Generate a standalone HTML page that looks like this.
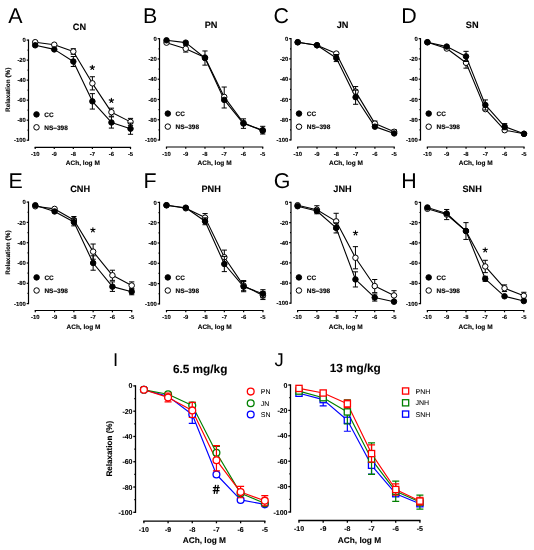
<!DOCTYPE html>
<html><head><meta charset="utf-8"><title>Figure</title>
<style>
html,body{margin:0;padding:0;background:#fff;}
body{width:534px;height:550px;overflow:hidden;}
svg{display:block;will-change:transform;}
text{font-family:"Liberation Sans", sans-serif;text-rendering:geometricPrecision;}
</style></head><body>
<svg width="534" height="550" viewBox="0 0 534 550">
<rect width="534" height="550" fill="#fff"/>
<g stroke="#000" stroke-width="1.2" fill="none">
<path d="M28.5 39.5 V140.8"/>
<path d="M26.7 40.1 H28.5"/>
<path d="M27.5 50.11 H28.5"/>
<path d="M26.7 60.12 H28.5"/>
<path d="M27.5 70.13 H28.5"/>
<path d="M26.7 80.14 H28.5"/>
<path d="M27.5 90.15 H28.5"/>
<path d="M26.7 100.16 H28.5"/>
<path d="M27.5 110.17 H28.5"/>
<path d="M26.7 120.18 H28.5"/>
<path d="M27.5 130.19 H28.5"/>
<path d="M26.7 140.2 H28.5"/>
<path d="M34.6 147.3 H131.1"/>
<path d="M35.2 147.3 V149.1"/>
<path d="M54.26 147.3 V149.1"/>
<path d="M73.32 147.3 V149.1"/>
<path d="M92.38 147.3 V149.1"/>
<path d="M111.44 147.3 V149.1"/>
<path d="M130.5 147.3 V149.1"/>
</g>
<text x="25.9" y="42.22" font-size="5.9" font-weight="bold" text-anchor="end" fill="#000" stroke="#000" stroke-width="0.12">0</text>
<text x="25.9" y="62.24" font-size="5.9" font-weight="bold" text-anchor="end" fill="#000" stroke="#000" stroke-width="0.12">-20</text>
<text x="25.9" y="82.26" font-size="5.9" font-weight="bold" text-anchor="end" fill="#000" stroke="#000" stroke-width="0.12">-40</text>
<text x="25.9" y="102.28" font-size="5.9" font-weight="bold" text-anchor="end" fill="#000" stroke="#000" stroke-width="0.12">-60</text>
<text x="25.9" y="122.3" font-size="5.9" font-weight="bold" text-anchor="end" fill="#000" stroke="#000" stroke-width="0.12">-80</text>
<text x="25.9" y="142.32" font-size="5.9" font-weight="bold" text-anchor="end" fill="#000" stroke="#000" stroke-width="0.12">-100</text>
<text x="35.2" y="155.9" font-size="5.9" font-weight="bold" text-anchor="middle" fill="#000" stroke="#000" stroke-width="0.12">-10</text>
<text x="54.26" y="155.9" font-size="5.9" font-weight="bold" text-anchor="middle" fill="#000" stroke="#000" stroke-width="0.12">-9</text>
<text x="73.32" y="155.9" font-size="5.9" font-weight="bold" text-anchor="middle" fill="#000" stroke="#000" stroke-width="0.12">-8</text>
<text x="92.38" y="155.9" font-size="5.9" font-weight="bold" text-anchor="middle" fill="#000" stroke="#000" stroke-width="0.12">-7</text>
<text x="111.44" y="155.9" font-size="5.9" font-weight="bold" text-anchor="middle" fill="#000" stroke="#000" stroke-width="0.12">-6</text>
<text x="130.5" y="155.9" font-size="5.9" font-weight="bold" text-anchor="middle" fill="#000" stroke="#000" stroke-width="0.12">-5</text>
<text x="82.85" y="165.3" font-size="6.5" font-weight="bold" text-anchor="middle" fill="#000" stroke="#000" stroke-width="0.12">ACh, log M</text>
<text transform="translate(9.7 89.75) rotate(-90)" font-size="6.45" font-weight="bold" text-anchor="middle" stroke="#000" stroke-width="0.12">Relaxation (%)</text>
<text x="79.5" y="29.9" font-size="9.2" font-weight="bold" text-anchor="middle" fill="#000" stroke="#000" stroke-width="0.1">CN</text>
<text x="8.2" y="23.2" font-size="21.4" font-weight="normal" text-anchor="start" fill="#000">A</text>
<polyline points="35.2,42.2 54.26,44.7 73.32,51.51 92.38,83.34 111.44,112.17 130.5,121.88" fill="none" stroke="#000" stroke-width="1.1" stroke-linejoin="round"/>
<polyline points="35.2,45.31 54.26,49.41 73.32,61.52 92.38,101.36 111.44,122.48 130.5,128.69" fill="none" stroke="#000" stroke-width="1.1" stroke-linejoin="round"/>
<path d="M73.32 51.51 V48.71 M70.72 48.71 H75.92 M73.32 51.51 V54.31 M70.72 54.31 H75.92" stroke="#000" stroke-width="1" fill="none"/>
<path d="M92.38 83.34 V76.74 M89.78 76.74 H94.98 M92.38 83.34 V89.95 M89.78 89.95 H94.98" stroke="#000" stroke-width="1" fill="none"/>
<path d="M111.44 112.17 V108.17 M108.84 108.17 H114.04 M111.44 112.17 V116.18 M108.84 116.18 H114.04" stroke="#000" stroke-width="1" fill="none"/>
<path d="M130.5 121.88 V118.38 M127.9 118.38 H133.1 M130.5 121.88 V125.39 M127.9 125.39 H133.1" stroke="#000" stroke-width="1" fill="none"/>
<circle cx="35.2" cy="42.2" r="2.75" fill="#fff" stroke="#000" stroke-width="1"/>
<circle cx="54.26" cy="44.7" r="2.75" fill="#fff" stroke="#000" stroke-width="1"/>
<circle cx="73.32" cy="51.51" r="2.75" fill="#fff" stroke="#000" stroke-width="1"/>
<circle cx="92.38" cy="83.34" r="2.75" fill="#fff" stroke="#000" stroke-width="1"/>
<circle cx="111.44" cy="112.17" r="2.75" fill="#fff" stroke="#000" stroke-width="1"/>
<circle cx="130.5" cy="121.88" r="2.75" fill="#fff" stroke="#000" stroke-width="1"/>
<path d="M73.32 61.52 V56.52 M70.72 56.52 H75.92 M73.32 61.52 V66.53 M70.72 66.53 H75.92" stroke="#000" stroke-width="1" fill="none"/>
<path d="M92.38 101.36 V93.65 M89.78 93.65 H94.98 M92.38 101.36 V109.07 M89.78 109.07 H94.98" stroke="#000" stroke-width="1" fill="none"/>
<path d="M111.44 122.48 V116.88 M108.84 116.88 H114.04 M111.44 122.48 V128.09 M108.84 128.09 H114.04" stroke="#000" stroke-width="1" fill="none"/>
<path d="M130.5 128.69 V123.08 M127.9 123.08 H133.1 M130.5 128.69 V134.29 M127.9 134.29 H133.1" stroke="#000" stroke-width="1" fill="none"/>
<circle cx="35.2" cy="45.31" r="2.75" fill="#000" stroke="#000" stroke-width="1"/>
<circle cx="54.26" cy="49.41" r="2.75" fill="#000" stroke="#000" stroke-width="1"/>
<circle cx="73.32" cy="61.52" r="2.75" fill="#000" stroke="#000" stroke-width="1"/>
<circle cx="92.38" cy="101.36" r="2.75" fill="#000" stroke="#000" stroke-width="1"/>
<circle cx="111.44" cy="122.48" r="2.75" fill="#000" stroke="#000" stroke-width="1"/>
<circle cx="130.5" cy="128.69" r="2.75" fill="#000" stroke="#000" stroke-width="1"/>
<circle cx="36.5" cy="114.4" r="2.75" fill="#000" stroke="#000" stroke-width="1"/>
<text x="44.3" y="116.81" font-size="6.5" font-weight="bold" text-anchor="start" fill="#000" stroke="#000" stroke-width="0.15">CC</text>
<circle cx="36.5" cy="127.3" r="2.75" fill="#fff" stroke="#000" stroke-width="1"/>
<text x="44.3" y="129.7" font-size="6.5" font-weight="bold" text-anchor="start" fill="#000" stroke="#000" stroke-width="0.15">NS&#8211;398</text>
<path d="M92.3 67.6 L92.3 65.3 M92.3 67.6 L94.49 66.89 M92.3 67.6 L90.11 66.89 M92.3 67.6 L90.95 69.46 M92.3 67.6 L93.65 69.46" stroke="#000" stroke-width="1.1" stroke-linecap="round" fill="none"/>
<path d="M111.4 100.6 L111.4 98.3 M111.4 100.6 L113.59 99.89 M111.4 100.6 L109.21 99.89 M111.4 100.6 L110.05 102.46 M111.4 100.6 L112.75 102.46" stroke="#000" stroke-width="1.1" stroke-linecap="round" fill="none"/>
<g stroke="#000" stroke-width="1.2" fill="none">
<path d="M159.5 38.1 V140.6"/>
<path d="M157.7 38.7 H159.5"/>
<path d="M158.5 48.83 H159.5"/>
<path d="M157.7 58.96 H159.5"/>
<path d="M158.5 69.09 H159.5"/>
<path d="M157.7 79.22 H159.5"/>
<path d="M158.5 89.35 H159.5"/>
<path d="M157.7 99.48 H159.5"/>
<path d="M158.5 109.61 H159.5"/>
<path d="M157.7 119.74 H159.5"/>
<path d="M158.5 129.87 H159.5"/>
<path d="M157.7 140 H159.5"/>
<path d="M165.9 147 H263.3"/>
<path d="M166.5 147 V148.8"/>
<path d="M185.74 147 V148.8"/>
<path d="M204.98 147 V148.8"/>
<path d="M224.22 147 V148.8"/>
<path d="M243.46 147 V148.8"/>
<path d="M262.7 147 V148.8"/>
</g>
<text x="156.9" y="40.82" font-size="5.9" font-weight="bold" text-anchor="end" fill="#000" stroke="#000" stroke-width="0.12">0</text>
<text x="156.9" y="61.08" font-size="5.9" font-weight="bold" text-anchor="end" fill="#000" stroke="#000" stroke-width="0.12">-20</text>
<text x="156.9" y="81.34" font-size="5.9" font-weight="bold" text-anchor="end" fill="#000" stroke="#000" stroke-width="0.12">-40</text>
<text x="156.9" y="101.6" font-size="5.9" font-weight="bold" text-anchor="end" fill="#000" stroke="#000" stroke-width="0.12">-60</text>
<text x="156.9" y="121.86" font-size="5.9" font-weight="bold" text-anchor="end" fill="#000" stroke="#000" stroke-width="0.12">-80</text>
<text x="156.9" y="142.12" font-size="5.9" font-weight="bold" text-anchor="end" fill="#000" stroke="#000" stroke-width="0.12">-100</text>
<text x="166.5" y="155.6" font-size="5.9" font-weight="bold" text-anchor="middle" fill="#000" stroke="#000" stroke-width="0.12">-10</text>
<text x="185.74" y="155.6" font-size="5.9" font-weight="bold" text-anchor="middle" fill="#000" stroke="#000" stroke-width="0.12">-9</text>
<text x="204.98" y="155.6" font-size="5.9" font-weight="bold" text-anchor="middle" fill="#000" stroke="#000" stroke-width="0.12">-8</text>
<text x="224.22" y="155.6" font-size="5.9" font-weight="bold" text-anchor="middle" fill="#000" stroke="#000" stroke-width="0.12">-7</text>
<text x="243.46" y="155.6" font-size="5.9" font-weight="bold" text-anchor="middle" fill="#000" stroke="#000" stroke-width="0.12">-6</text>
<text x="262.7" y="155.6" font-size="5.9" font-weight="bold" text-anchor="middle" fill="#000" stroke="#000" stroke-width="0.12">-5</text>
<text x="214.6" y="165" font-size="6.5" font-weight="bold" text-anchor="middle" fill="#000" stroke="#000" stroke-width="0.12">ACh, log M</text>
<text x="211.1" y="28" font-size="9.2" font-weight="bold" text-anchor="middle" fill="#000" stroke="#000" stroke-width="0.1">PN</text>
<text x="143" y="23.2" font-size="21.4" font-weight="normal" text-anchor="start" fill="#000">B</text>
<polyline points="166.5,42.65 185.74,48.73 204.98,57.54 224.22,96.95 243.46,122.78 262.7,130.88" fill="none" stroke="#000" stroke-width="1.1" stroke-linejoin="round"/>
<polyline points="166.5,40.32 185.74,42.65 204.98,58.05 224.22,99.89 243.46,123.59 262.7,130.17" fill="none" stroke="#000" stroke-width="1.1" stroke-linejoin="round"/>
<path d="M185.74 48.73 V45.39 M183.14 45.39 H188.34 M185.74 48.73 V52.07 M183.14 52.07 H188.34" stroke="#000" stroke-width="1" fill="none"/>
<path d="M224.22 96.95 V87.02 M221.62 87.02 H226.82" stroke="#000" stroke-width="1" fill="none"/>
<circle cx="166.5" cy="42.65" r="2.75" fill="#fff" stroke="#000" stroke-width="1"/>
<circle cx="185.74" cy="48.73" r="2.75" fill="#fff" stroke="#000" stroke-width="1"/>
<circle cx="204.98" cy="57.54" r="2.75" fill="#fff" stroke="#000" stroke-width="1"/>
<circle cx="224.22" cy="96.95" r="2.75" fill="#fff" stroke="#000" stroke-width="1"/>
<circle cx="243.46" cy="122.78" r="2.75" fill="#fff" stroke="#000" stroke-width="1"/>
<circle cx="262.7" cy="130.88" r="2.75" fill="#fff" stroke="#000" stroke-width="1"/>
<path d="M204.98 58.05 V50.96 M202.38 50.96 H207.58 M204.98 58.05 V65.14 M202.38 65.14 H207.58" stroke="#000" stroke-width="1" fill="none"/>
<path d="M224.22 99.89 V107.99 M221.62 107.99 H226.82" stroke="#000" stroke-width="1" fill="none"/>
<path d="M243.46 123.59 V118.83 M240.86 118.83 H246.06 M243.46 123.59 V128.35 M240.86 128.35 H246.06" stroke="#000" stroke-width="1" fill="none"/>
<path d="M262.7 130.17 V126.32 M260.1 126.32 H265.3 M262.7 130.17 V134.02 M260.1 134.02 H265.3" stroke="#000" stroke-width="1" fill="none"/>
<circle cx="166.5" cy="40.32" r="2.75" fill="#000" stroke="#000" stroke-width="1"/>
<circle cx="185.74" cy="42.65" r="2.75" fill="#000" stroke="#000" stroke-width="1"/>
<circle cx="204.98" cy="58.05" r="2.75" fill="#000" stroke="#000" stroke-width="1"/>
<circle cx="224.22" cy="99.89" r="2.75" fill="#000" stroke="#000" stroke-width="1"/>
<circle cx="243.46" cy="123.59" r="2.75" fill="#000" stroke="#000" stroke-width="1"/>
<circle cx="262.7" cy="130.17" r="2.75" fill="#000" stroke="#000" stroke-width="1"/>
<circle cx="167.8" cy="113.6" r="2.75" fill="#000" stroke="#000" stroke-width="1"/>
<text x="175.6" y="116" font-size="6.5" font-weight="bold" text-anchor="start" fill="#000" stroke="#000" stroke-width="0.15">CC</text>
<circle cx="167.8" cy="126.6" r="2.75" fill="#fff" stroke="#000" stroke-width="1"/>
<text x="175.6" y="129" font-size="6.5" font-weight="bold" text-anchor="start" fill="#000" stroke="#000" stroke-width="0.15">NS&#8211;398</text>
<g stroke="#000" stroke-width="1.2" fill="none">
<path d="M291 38.1 V140.5"/>
<path d="M289.2 38.7 H291"/>
<path d="M290 48.82 H291"/>
<path d="M289.2 58.94 H291"/>
<path d="M290 69.06 H291"/>
<path d="M289.2 79.18 H291"/>
<path d="M290 89.3 H291"/>
<path d="M289.2 99.42 H291"/>
<path d="M290 109.54 H291"/>
<path d="M289.2 119.66 H291"/>
<path d="M290 129.78 H291"/>
<path d="M289.2 139.9 H291"/>
<path d="M297.1 147 H394.8"/>
<path d="M297.7 147 V148.8"/>
<path d="M317 147 V148.8"/>
<path d="M336.3 147 V148.8"/>
<path d="M355.6 147 V148.8"/>
<path d="M374.9 147 V148.8"/>
<path d="M394.2 147 V148.8"/>
</g>
<text x="288.4" y="40.82" font-size="5.9" font-weight="bold" text-anchor="end" fill="#000" stroke="#000" stroke-width="0.12">0</text>
<text x="288.4" y="61.06" font-size="5.9" font-weight="bold" text-anchor="end" fill="#000" stroke="#000" stroke-width="0.12">-20</text>
<text x="288.4" y="81.3" font-size="5.9" font-weight="bold" text-anchor="end" fill="#000" stroke="#000" stroke-width="0.12">-40</text>
<text x="288.4" y="101.54" font-size="5.9" font-weight="bold" text-anchor="end" fill="#000" stroke="#000" stroke-width="0.12">-60</text>
<text x="288.4" y="121.78" font-size="5.9" font-weight="bold" text-anchor="end" fill="#000" stroke="#000" stroke-width="0.12">-80</text>
<text x="288.4" y="142.02" font-size="5.9" font-weight="bold" text-anchor="end" fill="#000" stroke="#000" stroke-width="0.12">-100</text>
<text x="297.7" y="155.6" font-size="5.9" font-weight="bold" text-anchor="middle" fill="#000" stroke="#000" stroke-width="0.12">-10</text>
<text x="317" y="155.6" font-size="5.9" font-weight="bold" text-anchor="middle" fill="#000" stroke="#000" stroke-width="0.12">-9</text>
<text x="336.3" y="155.6" font-size="5.9" font-weight="bold" text-anchor="middle" fill="#000" stroke="#000" stroke-width="0.12">-8</text>
<text x="355.6" y="155.6" font-size="5.9" font-weight="bold" text-anchor="middle" fill="#000" stroke="#000" stroke-width="0.12">-7</text>
<text x="374.9" y="155.6" font-size="5.9" font-weight="bold" text-anchor="middle" fill="#000" stroke="#000" stroke-width="0.12">-6</text>
<text x="394.2" y="155.6" font-size="5.9" font-weight="bold" text-anchor="middle" fill="#000" stroke="#000" stroke-width="0.12">-5</text>
<text x="345.95" y="165" font-size="6.5" font-weight="bold" text-anchor="middle" fill="#000" stroke="#000" stroke-width="0.12">ACh, log M</text>
<text x="342.6" y="28" font-size="9.2" font-weight="bold" text-anchor="middle" fill="#000" stroke="#000" stroke-width="0.1">JN</text>
<text x="273.4" y="23.2" font-size="21.4" font-weight="normal" text-anchor="start" fill="#000">C</text>
<polyline points="297.7,42.24 317,45.28 336.3,53.58 355.6,91.63 374.9,123.61 394.2,131.8" fill="none" stroke="#000" stroke-width="1.1" stroke-linejoin="round"/>
<polyline points="297.7,42.24 317,45.28 336.3,58.03 355.6,97.19 374.9,126.64 394.2,133.42" fill="none" stroke="#000" stroke-width="1.1" stroke-linejoin="round"/>
<path d="M355.6 91.63 V86.57 M353 86.57 H358.2 M355.6 91.63 V96.69 M353 96.69 H358.2" stroke="#000" stroke-width="1" fill="none"/>
<path d="M374.9 123.61 V121.08 M372.3 121.08 H377.5 M374.9 123.61 V126.14 M372.3 126.14 H377.5" stroke="#000" stroke-width="1" fill="none"/>
<path d="M394.2 131.8 V129.78 M391.6 129.78 H396.8 M394.2 131.8 V133.83 M391.6 133.83 H396.8" stroke="#000" stroke-width="1" fill="none"/>
<circle cx="297.7" cy="42.24" r="2.75" fill="#fff" stroke="#000" stroke-width="1"/>
<circle cx="317" cy="45.28" r="2.75" fill="#fff" stroke="#000" stroke-width="1"/>
<circle cx="336.3" cy="53.58" r="2.75" fill="#fff" stroke="#000" stroke-width="1"/>
<circle cx="355.6" cy="91.63" r="2.75" fill="#fff" stroke="#000" stroke-width="1"/>
<circle cx="374.9" cy="123.61" r="2.75" fill="#fff" stroke="#000" stroke-width="1"/>
<circle cx="394.2" cy="131.8" r="2.75" fill="#fff" stroke="#000" stroke-width="1"/>
<path d="M336.3 58.03 V54.49 M333.7 54.49 H338.9 M336.3 58.03 V61.57 M333.7 61.57 H338.9" stroke="#000" stroke-width="1" fill="none"/>
<path d="M355.6 97.19 V90.11 M353 90.11 H358.2 M355.6 97.19 V104.28 M353 104.28 H358.2" stroke="#000" stroke-width="1" fill="none"/>
<circle cx="297.7" cy="42.24" r="2.75" fill="#000" stroke="#000" stroke-width="1"/>
<circle cx="317" cy="45.28" r="2.75" fill="#000" stroke="#000" stroke-width="1"/>
<circle cx="336.3" cy="58.03" r="2.75" fill="#000" stroke="#000" stroke-width="1"/>
<circle cx="355.6" cy="97.19" r="2.75" fill="#000" stroke="#000" stroke-width="1"/>
<circle cx="374.9" cy="126.64" r="2.75" fill="#000" stroke="#000" stroke-width="1"/>
<circle cx="394.2" cy="133.42" r="2.75" fill="#000" stroke="#000" stroke-width="1"/>
<circle cx="299" cy="113.6" r="2.75" fill="#000" stroke="#000" stroke-width="1"/>
<text x="306.8" y="116" font-size="6.5" font-weight="bold" text-anchor="start" fill="#000" stroke="#000" stroke-width="0.15">CC</text>
<circle cx="299" cy="126.7" r="2.75" fill="#fff" stroke="#000" stroke-width="1"/>
<text x="306.8" y="129.1" font-size="6.5" font-weight="bold" text-anchor="start" fill="#000" stroke="#000" stroke-width="0.15">NS&#8211;398</text>
<g stroke="#000" stroke-width="1.2" fill="none">
<path d="M420.5 38.1 V140.5"/>
<path d="M418.7 38.7 H420.5"/>
<path d="M419.5 48.82 H420.5"/>
<path d="M418.7 58.94 H420.5"/>
<path d="M419.5 69.06 H420.5"/>
<path d="M418.7 79.18 H420.5"/>
<path d="M419.5 89.3 H420.5"/>
<path d="M418.7 99.42 H420.5"/>
<path d="M419.5 109.54 H420.5"/>
<path d="M418.7 119.66 H420.5"/>
<path d="M419.5 129.78 H420.5"/>
<path d="M418.7 139.9 H420.5"/>
<path d="M426.8 147 H524.6"/>
<path d="M427.4 147 V148.8"/>
<path d="M446.72 147 V148.8"/>
<path d="M466.04 147 V148.8"/>
<path d="M485.36 147 V148.8"/>
<path d="M504.68 147 V148.8"/>
<path d="M524 147 V148.8"/>
</g>
<text x="417.9" y="40.82" font-size="5.9" font-weight="bold" text-anchor="end" fill="#000" stroke="#000" stroke-width="0.12">0</text>
<text x="417.9" y="61.06" font-size="5.9" font-weight="bold" text-anchor="end" fill="#000" stroke="#000" stroke-width="0.12">-20</text>
<text x="417.9" y="81.3" font-size="5.9" font-weight="bold" text-anchor="end" fill="#000" stroke="#000" stroke-width="0.12">-40</text>
<text x="417.9" y="101.54" font-size="5.9" font-weight="bold" text-anchor="end" fill="#000" stroke="#000" stroke-width="0.12">-60</text>
<text x="417.9" y="121.78" font-size="5.9" font-weight="bold" text-anchor="end" fill="#000" stroke="#000" stroke-width="0.12">-80</text>
<text x="417.9" y="142.02" font-size="5.9" font-weight="bold" text-anchor="end" fill="#000" stroke="#000" stroke-width="0.12">-100</text>
<text x="427.4" y="155.6" font-size="5.9" font-weight="bold" text-anchor="middle" fill="#000" stroke="#000" stroke-width="0.12">-10</text>
<text x="446.72" y="155.6" font-size="5.9" font-weight="bold" text-anchor="middle" fill="#000" stroke="#000" stroke-width="0.12">-9</text>
<text x="466.04" y="155.6" font-size="5.9" font-weight="bold" text-anchor="middle" fill="#000" stroke="#000" stroke-width="0.12">-8</text>
<text x="485.36" y="155.6" font-size="5.9" font-weight="bold" text-anchor="middle" fill="#000" stroke="#000" stroke-width="0.12">-7</text>
<text x="504.68" y="155.6" font-size="5.9" font-weight="bold" text-anchor="middle" fill="#000" stroke="#000" stroke-width="0.12">-6</text>
<text x="524" y="155.6" font-size="5.9" font-weight="bold" text-anchor="middle" fill="#000" stroke="#000" stroke-width="0.12">-5</text>
<text x="475.7" y="165" font-size="6.5" font-weight="bold" text-anchor="middle" fill="#000" stroke="#000" stroke-width="0.12">ACh, log M</text>
<text x="472.25" y="28" font-size="9.2" font-weight="bold" text-anchor="middle" fill="#000" stroke="#000" stroke-width="0.1">SN</text>
<text x="401.2" y="23.2" font-size="21.4" font-weight="normal" text-anchor="start" fill="#000">D</text>
<polyline points="427.4,42.24 446.72,48.52 466.04,62.79 485.36,109.14 504.68,130.18 524,133.83" fill="none" stroke="#000" stroke-width="1.1" stroke-linejoin="round"/>
<polyline points="427.4,42.24 446.72,46.59 466.04,56.41 485.36,104.99 504.68,126.64 524,133.83" fill="none" stroke="#000" stroke-width="1.1" stroke-linejoin="round"/>
<path d="M466.04 62.79 V57.42 M463.44 57.42 H468.64 M466.04 62.79 V68.15 M463.44 68.15 H468.64" stroke="#000" stroke-width="1" fill="none"/>
<path d="M504.68 130.18 V128.67 M502.08 128.67 H507.28 M504.68 130.18 V131.7 M502.08 131.7 H507.28" stroke="#000" stroke-width="1" fill="none"/>
<circle cx="427.4" cy="42.24" r="2.75" fill="#fff" stroke="#000" stroke-width="1"/>
<circle cx="446.72" cy="48.52" r="2.75" fill="#fff" stroke="#000" stroke-width="1"/>
<circle cx="466.04" cy="62.79" r="2.75" fill="#fff" stroke="#000" stroke-width="1"/>
<circle cx="485.36" cy="109.14" r="2.75" fill="#fff" stroke="#000" stroke-width="1"/>
<circle cx="504.68" cy="130.18" r="2.75" fill="#fff" stroke="#000" stroke-width="1"/>
<circle cx="524" cy="133.83" r="2.75" fill="#fff" stroke="#000" stroke-width="1"/>
<path d="M466.04 56.41 V51.35 M463.44 51.35 H468.64 M466.04 56.41 V61.47 M463.44 61.47 H468.64" stroke="#000" stroke-width="1" fill="none"/>
<path d="M485.36 104.99 V99.93 M482.76 99.93 H487.96 M485.36 104.99 V110.05 M482.76 110.05 H487.96" stroke="#000" stroke-width="1" fill="none"/>
<path d="M504.68 126.64 V123.61 M502.08 123.61 H507.28 M504.68 126.64 V129.68 M502.08 129.68 H507.28" stroke="#000" stroke-width="1" fill="none"/>
<circle cx="427.4" cy="42.24" r="2.75" fill="#000" stroke="#000" stroke-width="1"/>
<circle cx="446.72" cy="46.59" r="2.75" fill="#000" stroke="#000" stroke-width="1"/>
<circle cx="466.04" cy="56.41" r="2.75" fill="#000" stroke="#000" stroke-width="1"/>
<circle cx="485.36" cy="104.99" r="2.75" fill="#000" stroke="#000" stroke-width="1"/>
<circle cx="504.68" cy="126.64" r="2.75" fill="#000" stroke="#000" stroke-width="1"/>
<circle cx="524" cy="133.83" r="2.75" fill="#000" stroke="#000" stroke-width="1"/>
<circle cx="428.7" cy="113.6" r="2.75" fill="#000" stroke="#000" stroke-width="1"/>
<text x="436.5" y="116" font-size="6.5" font-weight="bold" text-anchor="start" fill="#000" stroke="#000" stroke-width="0.15">CC</text>
<circle cx="428.7" cy="126.7" r="2.75" fill="#fff" stroke="#000" stroke-width="1"/>
<text x="436.5" y="129.1" font-size="6.5" font-weight="bold" text-anchor="start" fill="#000" stroke="#000" stroke-width="0.15">NS&#8211;398</text>
<g stroke="#000" stroke-width="1.2" fill="none">
<path d="M28.5 201.5 V304.2"/>
<path d="M26.7 202.1 H28.5"/>
<path d="M27.5 212.25 H28.5"/>
<path d="M26.7 222.4 H28.5"/>
<path d="M27.5 232.55 H28.5"/>
<path d="M26.7 242.7 H28.5"/>
<path d="M27.5 252.85 H28.5"/>
<path d="M26.7 263 H28.5"/>
<path d="M27.5 273.15 H28.5"/>
<path d="M26.7 283.3 H28.5"/>
<path d="M27.5 293.45 H28.5"/>
<path d="M26.7 303.6 H28.5"/>
<path d="M34.7 310.5 H132.3"/>
<path d="M35.3 310.5 V312.3"/>
<path d="M54.58 310.5 V312.3"/>
<path d="M73.86 310.5 V312.3"/>
<path d="M93.14 310.5 V312.3"/>
<path d="M112.42 310.5 V312.3"/>
<path d="M131.7 310.5 V312.3"/>
</g>
<text x="25.9" y="204.22" font-size="5.9" font-weight="bold" text-anchor="end" fill="#000" stroke="#000" stroke-width="0.12">0</text>
<text x="25.9" y="224.52" font-size="5.9" font-weight="bold" text-anchor="end" fill="#000" stroke="#000" stroke-width="0.12">-20</text>
<text x="25.9" y="244.82" font-size="5.9" font-weight="bold" text-anchor="end" fill="#000" stroke="#000" stroke-width="0.12">-40</text>
<text x="25.9" y="265.12" font-size="5.9" font-weight="bold" text-anchor="end" fill="#000" stroke="#000" stroke-width="0.12">-60</text>
<text x="25.9" y="285.42" font-size="5.9" font-weight="bold" text-anchor="end" fill="#000" stroke="#000" stroke-width="0.12">-80</text>
<text x="25.9" y="305.72" font-size="5.9" font-weight="bold" text-anchor="end" fill="#000" stroke="#000" stroke-width="0.12">-100</text>
<text x="35.3" y="319.1" font-size="5.9" font-weight="bold" text-anchor="middle" fill="#000" stroke="#000" stroke-width="0.12">-10</text>
<text x="54.58" y="319.1" font-size="5.9" font-weight="bold" text-anchor="middle" fill="#000" stroke="#000" stroke-width="0.12">-9</text>
<text x="73.86" y="319.1" font-size="5.9" font-weight="bold" text-anchor="middle" fill="#000" stroke="#000" stroke-width="0.12">-8</text>
<text x="93.14" y="319.1" font-size="5.9" font-weight="bold" text-anchor="middle" fill="#000" stroke="#000" stroke-width="0.12">-7</text>
<text x="112.42" y="319.1" font-size="5.9" font-weight="bold" text-anchor="middle" fill="#000" stroke="#000" stroke-width="0.12">-6</text>
<text x="131.7" y="319.1" font-size="5.9" font-weight="bold" text-anchor="middle" fill="#000" stroke="#000" stroke-width="0.12">-5</text>
<text x="83.5" y="328.5" font-size="6.5" font-weight="bold" text-anchor="middle" fill="#000" stroke="#000" stroke-width="0.12">ACh, log M</text>
<text transform="translate(9.5 252.6) rotate(-90)" font-size="6.45" font-weight="bold" text-anchor="middle" stroke="#000" stroke-width="0.12">Relaxation (%)</text>
<text x="80.1" y="191.9" font-size="9.2" font-weight="bold" text-anchor="middle" fill="#000" stroke="#000" stroke-width="0.1">CNH</text>
<text x="8.4" y="188.2" font-size="21.4" font-weight="normal" text-anchor="start" fill="#000">E</text>
<polyline points="35.3,206.26 54.58,208.9 73.86,220.07 93.14,251.63 112.42,275.28 131.7,285.53" fill="none" stroke="#000" stroke-width="1.1" stroke-linejoin="round"/>
<polyline points="35.3,205.25 54.58,211.44 73.86,222.1 93.14,263 112.42,286.65 131.7,291.72" fill="none" stroke="#000" stroke-width="1.1" stroke-linejoin="round"/>
<path d="M73.86 220.07 V216.51 M71.26 216.51 H76.46 M73.86 220.07 V223.62 M71.26 223.62 H76.46" stroke="#000" stroke-width="1" fill="none"/>
<path d="M93.14 251.63 V244.02 M90.54 244.02 H95.74 M93.14 251.63 V259.24 M90.54 259.24 H95.74" stroke="#000" stroke-width="1" fill="none"/>
<path d="M112.42 275.28 V270.21 M109.82 270.21 H115.02 M112.42 275.28 V280.36 M109.82 280.36 H115.02" stroke="#000" stroke-width="1" fill="none"/>
<path d="M131.7 285.53 V281.88 M129.1 281.88 H134.3 M131.7 285.53 V289.19 M129.1 289.19 H134.3" stroke="#000" stroke-width="1" fill="none"/>
<circle cx="35.3" cy="206.26" r="2.75" fill="#fff" stroke="#000" stroke-width="1"/>
<circle cx="54.58" cy="208.9" r="2.75" fill="#fff" stroke="#000" stroke-width="1"/>
<circle cx="73.86" cy="220.07" r="2.75" fill="#fff" stroke="#000" stroke-width="1"/>
<circle cx="93.14" cy="251.63" r="2.75" fill="#fff" stroke="#000" stroke-width="1"/>
<circle cx="112.42" cy="275.28" r="2.75" fill="#fff" stroke="#000" stroke-width="1"/>
<circle cx="131.7" cy="285.53" r="2.75" fill="#fff" stroke="#000" stroke-width="1"/>
<path d="M73.86 222.1 V218.34 M71.26 218.34 H76.46 M73.86 222.1 V225.85 M71.26 225.85 H76.46" stroke="#000" stroke-width="1" fill="none"/>
<path d="M93.14 263 V255.79 M90.54 255.79 H95.74 M93.14 263 V270.21 M90.54 270.21 H95.74" stroke="#000" stroke-width="1" fill="none"/>
<path d="M112.42 286.65 V281.88 M109.82 281.88 H115.02 M112.42 286.65 V291.42 M109.82 291.42 H115.02" stroke="#000" stroke-width="1" fill="none"/>
<path d="M131.7 291.72 V288.68 M129.1 288.68 H134.3 M131.7 291.72 V294.77 M129.1 294.77 H134.3" stroke="#000" stroke-width="1" fill="none"/>
<circle cx="35.3" cy="205.25" r="2.75" fill="#000" stroke="#000" stroke-width="1"/>
<circle cx="54.58" cy="211.44" r="2.75" fill="#000" stroke="#000" stroke-width="1"/>
<circle cx="73.86" cy="222.1" r="2.75" fill="#000" stroke="#000" stroke-width="1"/>
<circle cx="93.14" cy="263" r="2.75" fill="#000" stroke="#000" stroke-width="1"/>
<circle cx="112.42" cy="286.65" r="2.75" fill="#000" stroke="#000" stroke-width="1"/>
<circle cx="131.7" cy="291.72" r="2.75" fill="#000" stroke="#000" stroke-width="1"/>
<circle cx="36.6" cy="277.4" r="2.75" fill="#000" stroke="#000" stroke-width="1"/>
<text x="44.4" y="279.8" font-size="6.5" font-weight="bold" text-anchor="start" fill="#000" stroke="#000" stroke-width="0.15">CC</text>
<circle cx="36.6" cy="290.5" r="2.75" fill="#fff" stroke="#000" stroke-width="1"/>
<text x="44.4" y="292.9" font-size="6.5" font-weight="bold" text-anchor="start" fill="#000" stroke="#000" stroke-width="0.15">NS&#8211;398</text>
<path d="M92.9 230 L92.9 227.7 M92.9 230 L95.09 229.29 M92.9 230 L90.71 229.29 M92.9 230 L91.55 231.86 M92.9 230 L94.25 231.86" stroke="#000" stroke-width="1.1" stroke-linecap="round" fill="none"/>
<g stroke="#000" stroke-width="1.2" fill="none">
<path d="M159.5 201.8 V304.5"/>
<path d="M157.7 202.4 H159.5"/>
<path d="M158.5 212.55 H159.5"/>
<path d="M157.7 222.7 H159.5"/>
<path d="M158.5 232.85 H159.5"/>
<path d="M157.7 243 H159.5"/>
<path d="M158.5 253.15 H159.5"/>
<path d="M157.7 263.3 H159.5"/>
<path d="M158.5 273.45 H159.5"/>
<path d="M157.7 283.6 H159.5"/>
<path d="M158.5 293.75 H159.5"/>
<path d="M157.7 303.9 H159.5"/>
<path d="M165.9 310.5 H263.5"/>
<path d="M166.5 310.5 V312.3"/>
<path d="M185.78 310.5 V312.3"/>
<path d="M205.06 310.5 V312.3"/>
<path d="M224.34 310.5 V312.3"/>
<path d="M243.62 310.5 V312.3"/>
<path d="M262.9 310.5 V312.3"/>
</g>
<text x="156.9" y="204.52" font-size="5.9" font-weight="bold" text-anchor="end" fill="#000" stroke="#000" stroke-width="0.12">0</text>
<text x="156.9" y="224.82" font-size="5.9" font-weight="bold" text-anchor="end" fill="#000" stroke="#000" stroke-width="0.12">-20</text>
<text x="156.9" y="245.12" font-size="5.9" font-weight="bold" text-anchor="end" fill="#000" stroke="#000" stroke-width="0.12">-40</text>
<text x="156.9" y="265.42" font-size="5.9" font-weight="bold" text-anchor="end" fill="#000" stroke="#000" stroke-width="0.12">-60</text>
<text x="156.9" y="285.72" font-size="5.9" font-weight="bold" text-anchor="end" fill="#000" stroke="#000" stroke-width="0.12">-80</text>
<text x="156.9" y="306.02" font-size="5.9" font-weight="bold" text-anchor="end" fill="#000" stroke="#000" stroke-width="0.12">-100</text>
<text x="166.5" y="319.1" font-size="5.9" font-weight="bold" text-anchor="middle" fill="#000" stroke="#000" stroke-width="0.12">-10</text>
<text x="185.78" y="319.1" font-size="5.9" font-weight="bold" text-anchor="middle" fill="#000" stroke="#000" stroke-width="0.12">-9</text>
<text x="205.06" y="319.1" font-size="5.9" font-weight="bold" text-anchor="middle" fill="#000" stroke="#000" stroke-width="0.12">-8</text>
<text x="224.34" y="319.1" font-size="5.9" font-weight="bold" text-anchor="middle" fill="#000" stroke="#000" stroke-width="0.12">-7</text>
<text x="243.62" y="319.1" font-size="5.9" font-weight="bold" text-anchor="middle" fill="#000" stroke="#000" stroke-width="0.12">-6</text>
<text x="262.9" y="319.1" font-size="5.9" font-weight="bold" text-anchor="middle" fill="#000" stroke="#000" stroke-width="0.12">-5</text>
<text x="214.7" y="328.5" font-size="6.5" font-weight="bold" text-anchor="middle" fill="#000" stroke="#000" stroke-width="0.12">ACh, log M</text>
<text x="211.2" y="192.2" font-size="9.2" font-weight="bold" text-anchor="middle" fill="#000" stroke="#000" stroke-width="0.1">PNH</text>
<text x="143.4" y="188.2" font-size="21.4" font-weight="normal" text-anchor="start" fill="#000">F</text>
<polyline points="166.5,205.24 185.78,208.29 205.06,217.62 224.34,257.21 243.62,285.63 262.9,295.48" fill="none" stroke="#000" stroke-width="1.1" stroke-linejoin="round"/>
<polyline points="166.5,205.24 185.78,207.68 205.06,221.28 224.34,264.01 243.62,286.64 262.9,293.75" fill="none" stroke="#000" stroke-width="1.1" stroke-linejoin="round"/>
<path d="M205.06 217.62 V213.56 M202.46 213.56 H207.66 M205.06 217.62 V221.69 M202.46 221.69 H207.66" stroke="#000" stroke-width="1" fill="none"/>
<path d="M224.34 257.21 V250.1 M221.74 250.1 H226.94 M224.34 257.21 V264.31 M221.74 264.31 H226.94" stroke="#000" stroke-width="1" fill="none"/>
<path d="M243.62 285.63 V280.56 M241.02 280.56 H246.22 M243.62 285.63 V290.7 M241.02 290.7 H246.22" stroke="#000" stroke-width="1" fill="none"/>
<path d="M262.9 295.48 V291.42 M260.3 291.42 H265.5 M262.9 295.48 V299.54 M260.3 299.54 H265.5" stroke="#000" stroke-width="1" fill="none"/>
<circle cx="166.5" cy="205.24" r="2.75" fill="#fff" stroke="#000" stroke-width="1"/>
<circle cx="185.78" cy="208.29" r="2.75" fill="#fff" stroke="#000" stroke-width="1"/>
<circle cx="205.06" cy="217.62" r="2.75" fill="#fff" stroke="#000" stroke-width="1"/>
<circle cx="224.34" cy="257.21" r="2.75" fill="#fff" stroke="#000" stroke-width="1"/>
<circle cx="243.62" cy="285.63" r="2.75" fill="#fff" stroke="#000" stroke-width="1"/>
<circle cx="262.9" cy="295.48" r="2.75" fill="#fff" stroke="#000" stroke-width="1"/>
<path d="M205.06 221.28 V217.83 M202.46 217.83 H207.66 M205.06 221.28 V224.73 M202.46 224.73 H207.66" stroke="#000" stroke-width="1" fill="none"/>
<path d="M224.34 264.01 V256.4 M221.74 256.4 H226.94 M224.34 264.01 V271.62 M221.74 271.62 H226.94" stroke="#000" stroke-width="1" fill="none"/>
<path d="M243.62 286.64 V281.57 M241.02 281.57 H246.22 M243.62 286.64 V291.72 M241.02 291.72 H246.22" stroke="#000" stroke-width="1" fill="none"/>
<path d="M262.9 293.75 V289.69 M260.3 289.69 H265.5 M262.9 293.75 V297.81 M260.3 297.81 H265.5" stroke="#000" stroke-width="1" fill="none"/>
<circle cx="166.5" cy="205.24" r="2.75" fill="#000" stroke="#000" stroke-width="1"/>
<circle cx="185.78" cy="207.68" r="2.75" fill="#000" stroke="#000" stroke-width="1"/>
<circle cx="205.06" cy="221.28" r="2.75" fill="#000" stroke="#000" stroke-width="1"/>
<circle cx="224.34" cy="264.01" r="2.75" fill="#000" stroke="#000" stroke-width="1"/>
<circle cx="243.62" cy="286.64" r="2.75" fill="#000" stroke="#000" stroke-width="1"/>
<circle cx="262.9" cy="293.75" r="2.75" fill="#000" stroke="#000" stroke-width="1"/>
<circle cx="167.8" cy="277.4" r="2.75" fill="#000" stroke="#000" stroke-width="1"/>
<text x="175.6" y="279.8" font-size="6.5" font-weight="bold" text-anchor="start" fill="#000" stroke="#000" stroke-width="0.15">CC</text>
<circle cx="167.8" cy="290.5" r="2.75" fill="#fff" stroke="#000" stroke-width="1"/>
<text x="175.6" y="292.9" font-size="6.5" font-weight="bold" text-anchor="start" fill="#000" stroke="#000" stroke-width="0.15">NS&#8211;398</text>
<g stroke="#000" stroke-width="1.2" fill="none">
<path d="M291 201.8 V303.8"/>
<path d="M289.2 202.4 H291"/>
<path d="M290 212.48 H291"/>
<path d="M289.2 222.56 H291"/>
<path d="M290 232.64 H291"/>
<path d="M289.2 242.72 H291"/>
<path d="M290 252.8 H291"/>
<path d="M289.2 262.88 H291"/>
<path d="M290 272.96 H291"/>
<path d="M289.2 283.04 H291"/>
<path d="M290 293.12 H291"/>
<path d="M289.2 303.2 H291"/>
<path d="M297 310.5 H394.6"/>
<path d="M297.6 310.5 V312.3"/>
<path d="M316.88 310.5 V312.3"/>
<path d="M336.16 310.5 V312.3"/>
<path d="M355.44 310.5 V312.3"/>
<path d="M374.72 310.5 V312.3"/>
<path d="M394 310.5 V312.3"/>
</g>
<text x="288.4" y="204.52" font-size="5.9" font-weight="bold" text-anchor="end" fill="#000" stroke="#000" stroke-width="0.12">0</text>
<text x="288.4" y="224.68" font-size="5.9" font-weight="bold" text-anchor="end" fill="#000" stroke="#000" stroke-width="0.12">-20</text>
<text x="288.4" y="244.84" font-size="5.9" font-weight="bold" text-anchor="end" fill="#000" stroke="#000" stroke-width="0.12">-40</text>
<text x="288.4" y="265" font-size="5.9" font-weight="bold" text-anchor="end" fill="#000" stroke="#000" stroke-width="0.12">-60</text>
<text x="288.4" y="285.16" font-size="5.9" font-weight="bold" text-anchor="end" fill="#000" stroke="#000" stroke-width="0.12">-80</text>
<text x="288.4" y="305.32" font-size="5.9" font-weight="bold" text-anchor="end" fill="#000" stroke="#000" stroke-width="0.12">-100</text>
<text x="297.6" y="319.1" font-size="5.9" font-weight="bold" text-anchor="middle" fill="#000" stroke="#000" stroke-width="0.12">-10</text>
<text x="316.88" y="319.1" font-size="5.9" font-weight="bold" text-anchor="middle" fill="#000" stroke="#000" stroke-width="0.12">-9</text>
<text x="336.16" y="319.1" font-size="5.9" font-weight="bold" text-anchor="middle" fill="#000" stroke="#000" stroke-width="0.12">-8</text>
<text x="355.44" y="319.1" font-size="5.9" font-weight="bold" text-anchor="middle" fill="#000" stroke="#000" stroke-width="0.12">-7</text>
<text x="374.72" y="319.1" font-size="5.9" font-weight="bold" text-anchor="middle" fill="#000" stroke="#000" stroke-width="0.12">-6</text>
<text x="394" y="319.1" font-size="5.9" font-weight="bold" text-anchor="middle" fill="#000" stroke="#000" stroke-width="0.12">-5</text>
<text x="345.8" y="328.5" font-size="6.5" font-weight="bold" text-anchor="middle" fill="#000" stroke="#000" stroke-width="0.12">ACh, log M</text>
<text x="342.5" y="192.2" font-size="9.2" font-weight="bold" text-anchor="middle" fill="#000" stroke="#000" stroke-width="0.1">JNH</text>
<text x="273.7" y="188.2" font-size="21.4" font-weight="normal" text-anchor="start" fill="#000">G</text>
<polyline points="297.6,205.22 316.88,209.76 336.16,221.35 355.44,257.74 374.72,286.06 394,295.44" fill="none" stroke="#000" stroke-width="1.1" stroke-linejoin="round"/>
<polyline points="297.6,206.23 316.88,210.97 336.16,227.9 355.44,279.41 374.72,297.56 394,301.69" fill="none" stroke="#000" stroke-width="1.1" stroke-linejoin="round"/>
<path d="M316.88 209.76 V205.73 M314.28 205.73 H319.48 M316.88 209.76 V213.79 M314.28 213.79 H319.48" stroke="#000" stroke-width="1" fill="none"/>
<path d="M336.16 221.35 V213.29 M333.56 213.29 H338.76 M336.16 221.35 V229.41 M333.56 229.41 H338.76" stroke="#000" stroke-width="1" fill="none"/>
<path d="M355.44 257.74 V246.65 M352.84 246.65 H358.04 M355.44 257.74 V268.83 M352.84 268.83 H358.04" stroke="#000" stroke-width="1" fill="none"/>
<path d="M374.72 286.06 V279.51 M372.12 279.51 H377.32 M374.72 286.06 V292.62 M372.12 292.62 H377.32" stroke="#000" stroke-width="1" fill="none"/>
<path d="M394 295.44 V290.7 M391.4 290.7 H396.6 M394 295.44 V300.18 M391.4 300.18 H396.6" stroke="#000" stroke-width="1" fill="none"/>
<circle cx="297.6" cy="205.22" r="2.75" fill="#fff" stroke="#000" stroke-width="1"/>
<circle cx="316.88" cy="209.76" r="2.75" fill="#fff" stroke="#000" stroke-width="1"/>
<circle cx="336.16" cy="221.35" r="2.75" fill="#fff" stroke="#000" stroke-width="1"/>
<circle cx="355.44" cy="257.74" r="2.75" fill="#fff" stroke="#000" stroke-width="1"/>
<circle cx="374.72" cy="286.06" r="2.75" fill="#fff" stroke="#000" stroke-width="1"/>
<circle cx="394" cy="295.44" r="2.75" fill="#fff" stroke="#000" stroke-width="1"/>
<path d="M336.16 227.9 V222.86 M333.56 222.86 H338.76 M336.16 227.9 V232.94 M333.56 232.94 H338.76" stroke="#000" stroke-width="1" fill="none"/>
<path d="M355.44 279.41 V271.85 M352.84 271.85 H358.04 M355.44 279.41 V286.97 M352.84 286.97 H358.04" stroke="#000" stroke-width="1" fill="none"/>
<path d="M374.72 297.56 V294.03 M372.12 294.03 H377.32 M374.72 297.56 V301.08 M372.12 301.08 H377.32" stroke="#000" stroke-width="1" fill="none"/>
<circle cx="297.6" cy="206.23" r="2.75" fill="#000" stroke="#000" stroke-width="1"/>
<circle cx="316.88" cy="210.97" r="2.75" fill="#000" stroke="#000" stroke-width="1"/>
<circle cx="336.16" cy="227.9" r="2.75" fill="#000" stroke="#000" stroke-width="1"/>
<circle cx="355.44" cy="279.41" r="2.75" fill="#000" stroke="#000" stroke-width="1"/>
<circle cx="374.72" cy="297.56" r="2.75" fill="#000" stroke="#000" stroke-width="1"/>
<circle cx="394" cy="301.69" r="2.75" fill="#000" stroke="#000" stroke-width="1"/>
<circle cx="298.9" cy="277.4" r="2.75" fill="#000" stroke="#000" stroke-width="1"/>
<text x="306.7" y="279.8" font-size="6.5" font-weight="bold" text-anchor="start" fill="#000" stroke="#000" stroke-width="0.15">CC</text>
<circle cx="298.9" cy="290.5" r="2.75" fill="#fff" stroke="#000" stroke-width="1"/>
<text x="306.7" y="292.9" font-size="6.5" font-weight="bold" text-anchor="start" fill="#000" stroke="#000" stroke-width="0.15">NS&#8211;398</text>
<path d="M355.5 233 L355.5 230.7 M355.5 233 L357.69 232.29 M355.5 233 L353.31 232.29 M355.5 233 L354.15 234.86 M355.5 233 L356.85 234.86" stroke="#000" stroke-width="1.1" stroke-linecap="round" fill="none"/>
<g stroke="#000" stroke-width="1.2" fill="none">
<path d="M420.5 201.8 V304.2"/>
<path d="M418.7 202.4 H420.5"/>
<path d="M419.5 212.52 H420.5"/>
<path d="M418.7 222.64 H420.5"/>
<path d="M419.5 232.76 H420.5"/>
<path d="M418.7 242.88 H420.5"/>
<path d="M419.5 253 H420.5"/>
<path d="M418.7 263.12 H420.5"/>
<path d="M419.5 273.24 H420.5"/>
<path d="M418.7 283.36 H420.5"/>
<path d="M419.5 293.48 H420.5"/>
<path d="M418.7 303.6 H420.5"/>
<path d="M426.8 310.5 H524.4"/>
<path d="M427.4 310.5 V312.3"/>
<path d="M446.68 310.5 V312.3"/>
<path d="M465.96 310.5 V312.3"/>
<path d="M485.24 310.5 V312.3"/>
<path d="M504.52 310.5 V312.3"/>
<path d="M523.8 310.5 V312.3"/>
</g>
<text x="417.9" y="204.52" font-size="5.9" font-weight="bold" text-anchor="end" fill="#000" stroke="#000" stroke-width="0.12">0</text>
<text x="417.9" y="224.76" font-size="5.9" font-weight="bold" text-anchor="end" fill="#000" stroke="#000" stroke-width="0.12">-20</text>
<text x="417.9" y="245" font-size="5.9" font-weight="bold" text-anchor="end" fill="#000" stroke="#000" stroke-width="0.12">-40</text>
<text x="417.9" y="265.24" font-size="5.9" font-weight="bold" text-anchor="end" fill="#000" stroke="#000" stroke-width="0.12">-60</text>
<text x="417.9" y="285.48" font-size="5.9" font-weight="bold" text-anchor="end" fill="#000" stroke="#000" stroke-width="0.12">-80</text>
<text x="417.9" y="305.72" font-size="5.9" font-weight="bold" text-anchor="end" fill="#000" stroke="#000" stroke-width="0.12">-100</text>
<text x="427.4" y="319.1" font-size="5.9" font-weight="bold" text-anchor="middle" fill="#000" stroke="#000" stroke-width="0.12">-10</text>
<text x="446.68" y="319.1" font-size="5.9" font-weight="bold" text-anchor="middle" fill="#000" stroke="#000" stroke-width="0.12">-9</text>
<text x="465.96" y="319.1" font-size="5.9" font-weight="bold" text-anchor="middle" fill="#000" stroke="#000" stroke-width="0.12">-8</text>
<text x="485.24" y="319.1" font-size="5.9" font-weight="bold" text-anchor="middle" fill="#000" stroke="#000" stroke-width="0.12">-7</text>
<text x="504.52" y="319.1" font-size="5.9" font-weight="bold" text-anchor="middle" fill="#000" stroke="#000" stroke-width="0.12">-6</text>
<text x="523.8" y="319.1" font-size="5.9" font-weight="bold" text-anchor="middle" fill="#000" stroke="#000" stroke-width="0.12">-5</text>
<text x="475.6" y="328.5" font-size="6.5" font-weight="bold" text-anchor="middle" fill="#000" stroke="#000" stroke-width="0.12">ACh, log M</text>
<text x="472.15" y="192.2" font-size="9.2" font-weight="bold" text-anchor="middle" fill="#000" stroke="#000" stroke-width="0.1">SNH</text>
<text x="401.2" y="188.2" font-size="21.4" font-weight="normal" text-anchor="start" fill="#000">H</text>
<polyline points="427.4,208.78 446.68,214.54 465.96,231.04 485.24,266.46 504.52,288.22 523.8,295.71" fill="none" stroke="#000" stroke-width="1.1" stroke-linejoin="round"/>
<polyline points="427.4,207.46 446.68,213.53 465.96,231.04 485.24,278.81 504.52,296.31 523.8,301.07" fill="none" stroke="#000" stroke-width="1.1" stroke-linejoin="round"/>
<path d="M446.68 214.54 V209.48 M444.08 209.48 H449.28 M446.68 214.54 V219.6 M444.08 219.6 H449.28" stroke="#000" stroke-width="1" fill="none"/>
<path d="M485.24 266.46 V260.29 M482.64 260.29 H487.84 M485.24 266.46 V272.63 M482.64 272.63 H487.84" stroke="#000" stroke-width="1" fill="none"/>
<path d="M504.52 288.22 V284.88 M501.92 284.88 H507.12 M504.52 288.22 V291.56 M501.92 291.56 H507.12" stroke="#000" stroke-width="1" fill="none"/>
<path d="M523.8 295.71 V292.27 M521.2 292.27 H526.4 M523.8 295.71 V299.15 M521.2 299.15 H526.4" stroke="#000" stroke-width="1" fill="none"/>
<circle cx="427.4" cy="208.78" r="2.75" fill="#fff" stroke="#000" stroke-width="1"/>
<circle cx="446.68" cy="214.54" r="2.75" fill="#fff" stroke="#000" stroke-width="1"/>
<circle cx="465.96" cy="231.04" r="2.75" fill="#fff" stroke="#000" stroke-width="1"/>
<circle cx="485.24" cy="266.46" r="2.75" fill="#fff" stroke="#000" stroke-width="1"/>
<circle cx="504.52" cy="288.22" r="2.75" fill="#fff" stroke="#000" stroke-width="1"/>
<circle cx="523.8" cy="295.71" r="2.75" fill="#fff" stroke="#000" stroke-width="1"/>
<path d="M465.96 231.04 V222.64 M463.36 222.64 H468.56 M465.96 231.04 V239.44 M463.36 239.44 H468.56" stroke="#000" stroke-width="1" fill="none"/>
<path d="M485.24 278.81 V276.28 M482.64 276.28 H487.84 M485.24 278.81 V281.34 M482.64 281.34 H487.84" stroke="#000" stroke-width="1" fill="none"/>
<circle cx="427.4" cy="207.46" r="2.75" fill="#000" stroke="#000" stroke-width="1"/>
<circle cx="446.68" cy="213.53" r="2.75" fill="#000" stroke="#000" stroke-width="1"/>
<circle cx="465.96" cy="231.04" r="2.75" fill="#000" stroke="#000" stroke-width="1"/>
<circle cx="485.24" cy="278.81" r="2.75" fill="#000" stroke="#000" stroke-width="1"/>
<circle cx="504.52" cy="296.31" r="2.75" fill="#000" stroke="#000" stroke-width="1"/>
<circle cx="523.8" cy="301.07" r="2.75" fill="#000" stroke="#000" stroke-width="1"/>
<circle cx="428.7" cy="277.4" r="2.75" fill="#000" stroke="#000" stroke-width="1"/>
<text x="436.5" y="279.8" font-size="6.5" font-weight="bold" text-anchor="start" fill="#000" stroke="#000" stroke-width="0.15">CC</text>
<circle cx="428.7" cy="290.5" r="2.75" fill="#fff" stroke="#000" stroke-width="1"/>
<text x="436.5" y="292.9" font-size="6.5" font-weight="bold" text-anchor="start" fill="#000" stroke="#000" stroke-width="0.15">NS&#8211;398</text>
<path d="M485.2 250 L485.2 247.7 M485.2 250 L487.39 249.29 M485.2 250 L483.01 249.29 M485.2 250 L483.85 251.86 M485.2 250 L486.55 251.86" stroke="#000" stroke-width="1.1" stroke-linecap="round" fill="none"/>
<g stroke="#000" stroke-width="1.3" fill="none">
<path d="M135.5 385.25 V512.95"/>
<path d="M133.3 385.9 H135.5"/>
<path d="M134.3 398.54 H135.5"/>
<path d="M133.3 411.18 H135.5"/>
<path d="M134.3 423.82 H135.5"/>
<path d="M133.3 436.46 H135.5"/>
<path d="M134.3 449.1 H135.5"/>
<path d="M133.3 461.74 H135.5"/>
<path d="M134.3 474.38 H135.5"/>
<path d="M133.3 487.02 H135.5"/>
<path d="M134.3 499.66 H135.5"/>
<path d="M133.3 512.3 H135.5"/>
<path d="M143.25 521.1 H265.45"/>
<path d="M143.9 521.1 V523.3"/>
<path d="M168.08 521.1 V523.3"/>
<path d="M192.26 521.1 V523.3"/>
<path d="M216.44 521.1 V523.3"/>
<path d="M240.62 521.1 V523.3"/>
<path d="M264.8 521.1 V523.3"/>
</g>
<text x="132.5" y="388.42" font-size="7" font-weight="bold" text-anchor="end" fill="#000" stroke="#000" stroke-width="0.12">0</text>
<text x="132.5" y="413.7" font-size="7" font-weight="bold" text-anchor="end" fill="#000" stroke="#000" stroke-width="0.12">-20</text>
<text x="132.5" y="438.98" font-size="7" font-weight="bold" text-anchor="end" fill="#000" stroke="#000" stroke-width="0.12">-40</text>
<text x="132.5" y="464.26" font-size="7" font-weight="bold" text-anchor="end" fill="#000" stroke="#000" stroke-width="0.12">-60</text>
<text x="132.5" y="489.54" font-size="7" font-weight="bold" text-anchor="end" fill="#000" stroke="#000" stroke-width="0.12">-80</text>
<text x="132.5" y="514.82" font-size="7" font-weight="bold" text-anchor="end" fill="#000" stroke="#000" stroke-width="0.12">-100</text>
<text x="143.9" y="531.5" font-size="7" font-weight="bold" text-anchor="middle" fill="#000" stroke="#000" stroke-width="0.12">-10</text>
<text x="168.08" y="531.5" font-size="7" font-weight="bold" text-anchor="middle" fill="#000" stroke="#000" stroke-width="0.12">-9</text>
<text x="192.26" y="531.5" font-size="7" font-weight="bold" text-anchor="middle" fill="#000" stroke="#000" stroke-width="0.12">-8</text>
<text x="216.44" y="531.5" font-size="7" font-weight="bold" text-anchor="middle" fill="#000" stroke="#000" stroke-width="0.12">-7</text>
<text x="240.62" y="531.5" font-size="7" font-weight="bold" text-anchor="middle" fill="#000" stroke="#000" stroke-width="0.12">-6</text>
<text x="264.8" y="531.5" font-size="7" font-weight="bold" text-anchor="middle" fill="#000" stroke="#000" stroke-width="0.12">-5</text>
<text x="204.35" y="543.3" font-size="8.3" font-weight="bold" text-anchor="middle" fill="#000" stroke="#000" stroke-width="0.12">ACh, log M</text>
<text transform="translate(111.8 448.65) rotate(-90)" font-size="8.1" font-weight="bold" text-anchor="middle" stroke="#000" stroke-width="0.12">Relaxation (%)</text>
<text x="200.15" y="372.9" font-size="11.8" font-weight="bold" text-anchor="middle" fill="#000" stroke="#000" stroke-width="0.1">6.5 mg/kg</text>
<text x="113" y="365.6" font-size="18.5" font-weight="normal" text-anchor="start" fill="#000">I</text>
<polyline points="143.9,389.82 168.08,396.39 192.26,414.47 216.44,474.51 240.62,499.91 264.8,504.34" fill="none" stroke="#0000ff" stroke-width="1.15" stroke-linejoin="round"/>
<polyline points="143.9,389.82 168.08,394.24 192.26,405.49 216.44,452.77 240.62,493.34 264.8,503.33" fill="none" stroke="#008000" stroke-width="1.15" stroke-linejoin="round"/>
<polyline points="143.9,389.82 168.08,397.4 192.26,410.42 216.44,460.22 240.62,492.08 264.8,500.67" fill="none" stroke="#ff0000" stroke-width="1.15" stroke-linejoin="round"/>
<path d="M192.26 414.47 V405.62 M188.76 405.62 H195.76 M192.26 414.47 V423.31 M188.76 423.31 H195.76" stroke="#0000ff" stroke-width="1.2" fill="none"/>
<circle cx="143.9" cy="389.82" r="3.4" fill="#fff" stroke="#0000ff" stroke-width="1.3"/>
<circle cx="168.08" cy="396.39" r="3.4" fill="#fff" stroke="#0000ff" stroke-width="1.3"/>
<circle cx="192.26" cy="414.47" r="3.4" fill="#fff" stroke="#0000ff" stroke-width="1.3"/>
<circle cx="216.44" cy="474.51" r="3.4" fill="#fff" stroke="#0000ff" stroke-width="1.3"/>
<circle cx="240.62" cy="499.91" r="3.4" fill="#fff" stroke="#0000ff" stroke-width="1.3"/>
<circle cx="264.8" cy="504.34" r="3.4" fill="#fff" stroke="#0000ff" stroke-width="1.3"/>
<path d="M192.26 405.49 V402.33 M188.76 402.33 H195.76 M192.26 405.49 V408.65 M188.76 408.65 H195.76" stroke="#008000" stroke-width="1.2" fill="none"/>
<path d="M216.44 452.77 V446.45 M212.94 446.45 H219.94 M216.44 452.77 V459.09 M212.94 459.09 H219.94" stroke="#008000" stroke-width="1.2" fill="none"/>
<circle cx="143.9" cy="389.82" r="3.4" fill="#fff" stroke="#008000" stroke-width="1.3"/>
<circle cx="168.08" cy="394.24" r="3.4" fill="#fff" stroke="#008000" stroke-width="1.3"/>
<circle cx="192.26" cy="405.49" r="3.4" fill="#fff" stroke="#008000" stroke-width="1.3"/>
<circle cx="216.44" cy="452.77" r="3.4" fill="#fff" stroke="#008000" stroke-width="1.3"/>
<circle cx="240.62" cy="493.34" r="3.4" fill="#fff" stroke="#008000" stroke-width="1.3"/>
<circle cx="264.8" cy="503.33" r="3.4" fill="#fff" stroke="#008000" stroke-width="1.3"/>
<path d="M168.08 397.4 V392.98 M164.58 392.98 H171.58 M168.08 397.4 V401.83 M164.58 401.83 H171.58" stroke="#ff0000" stroke-width="1.2" fill="none"/>
<path d="M192.26 410.42 V402.46 M188.76 402.46 H195.76 M192.26 410.42 V417.5 M188.76 417.5 H195.76" stroke="#ff0000" stroke-width="1.2" fill="none"/>
<path d="M216.44 460.22 V445.69 M212.94 445.69 H219.94 M216.44 460.22 V470.84 M212.94 470.84 H219.94" stroke="#ff0000" stroke-width="1.2" fill="none"/>
<path d="M240.62 492.08 V486.39 M237.12 486.39 H244.12 M240.62 492.08 V497.76 M237.12 497.76 H244.12" stroke="#ff0000" stroke-width="1.2" fill="none"/>
<path d="M264.8 500.67 V495.62 M261.3 495.62 H268.3 M264.8 500.67 V505.73 M261.3 505.73 H268.3" stroke="#ff0000" stroke-width="1.2" fill="none"/>
<circle cx="143.9" cy="389.82" r="3.4" fill="#fff" stroke="#ff0000" stroke-width="1.3"/>
<circle cx="168.08" cy="397.4" r="3.4" fill="#fff" stroke="#ff0000" stroke-width="1.3"/>
<circle cx="192.26" cy="410.42" r="3.4" fill="#fff" stroke="#ff0000" stroke-width="1.3"/>
<circle cx="216.44" cy="460.22" r="3.4" fill="#fff" stroke="#ff0000" stroke-width="1.3"/>
<circle cx="240.62" cy="492.08" r="3.4" fill="#fff" stroke="#ff0000" stroke-width="1.3"/>
<circle cx="264.8" cy="500.67" r="3.4" fill="#fff" stroke="#ff0000" stroke-width="1.3"/>
<circle cx="250.7" cy="391.6" r="3.4" fill="#fff" stroke="#ff0000" stroke-width="1.3"/>
<text x="260.8" y="394.19" font-size="7" font-weight="normal" text-anchor="start" fill="#000" stroke="#000" stroke-width="0.05">PN</text>
<circle cx="250.7" cy="403.2" r="3.4" fill="#fff" stroke="#008000" stroke-width="1.3"/>
<text x="260.8" y="405.79" font-size="7" font-weight="normal" text-anchor="start" fill="#000" stroke="#000" stroke-width="0.05">JN</text>
<circle cx="250.7" cy="414.5" r="3.4" fill="#fff" stroke="#0000ff" stroke-width="1.3"/>
<text x="260.8" y="417.09" font-size="7" font-weight="normal" text-anchor="start" fill="#000" stroke="#000" stroke-width="0.05">SN</text>
<path d="M215.6 484.9 L214.2 493.9 M218.2 484.9 L216.8 493.9 M212.9 487.6 H219.7 M212.7 490.7 H219.5" stroke="#000" stroke-width="1.25" fill="none"/>
<g stroke="#000" stroke-width="1.3" fill="none">
<path d="M290.5 384.35 V512.65"/>
<path d="M288.3 385 H290.5"/>
<path d="M289.3 397.7 H290.5"/>
<path d="M288.3 410.4 H290.5"/>
<path d="M289.3 423.1 H290.5"/>
<path d="M288.3 435.8 H290.5"/>
<path d="M289.3 448.5 H290.5"/>
<path d="M288.3 461.2 H290.5"/>
<path d="M289.3 473.9 H290.5"/>
<path d="M288.3 486.6 H290.5"/>
<path d="M289.3 499.3 H290.5"/>
<path d="M288.3 512 H290.5"/>
<path d="M298.35 520.5 H420.55"/>
<path d="M299 520.5 V522.7"/>
<path d="M323.18 520.5 V522.7"/>
<path d="M347.36 520.5 V522.7"/>
<path d="M371.54 520.5 V522.7"/>
<path d="M395.72 520.5 V522.7"/>
<path d="M419.9 520.5 V522.7"/>
</g>
<text x="287.5" y="387.52" font-size="7" font-weight="bold" text-anchor="end" fill="#000" stroke="#000" stroke-width="0.12">0</text>
<text x="287.5" y="412.92" font-size="7" font-weight="bold" text-anchor="end" fill="#000" stroke="#000" stroke-width="0.12">-20</text>
<text x="287.5" y="438.32" font-size="7" font-weight="bold" text-anchor="end" fill="#000" stroke="#000" stroke-width="0.12">-40</text>
<text x="287.5" y="463.72" font-size="7" font-weight="bold" text-anchor="end" fill="#000" stroke="#000" stroke-width="0.12">-60</text>
<text x="287.5" y="489.12" font-size="7" font-weight="bold" text-anchor="end" fill="#000" stroke="#000" stroke-width="0.12">-80</text>
<text x="287.5" y="514.52" font-size="7" font-weight="bold" text-anchor="end" fill="#000" stroke="#000" stroke-width="0.12">-100</text>
<text x="299" y="530.9" font-size="7" font-weight="bold" text-anchor="middle" fill="#000" stroke="#000" stroke-width="0.12">-10</text>
<text x="323.18" y="530.9" font-size="7" font-weight="bold" text-anchor="middle" fill="#000" stroke="#000" stroke-width="0.12">-9</text>
<text x="347.36" y="530.9" font-size="7" font-weight="bold" text-anchor="middle" fill="#000" stroke="#000" stroke-width="0.12">-8</text>
<text x="371.54" y="530.9" font-size="7" font-weight="bold" text-anchor="middle" fill="#000" stroke="#000" stroke-width="0.12">-7</text>
<text x="395.72" y="530.9" font-size="7" font-weight="bold" text-anchor="middle" fill="#000" stroke="#000" stroke-width="0.12">-6</text>
<text x="419.9" y="530.9" font-size="7" font-weight="bold" text-anchor="middle" fill="#000" stroke="#000" stroke-width="0.12">-5</text>
<text x="359.45" y="542.5" font-size="8.3" font-weight="bold" text-anchor="middle" fill="#000" stroke="#000" stroke-width="0.12">ACh, log M</text>
<text x="355.2" y="372" font-size="11.8" font-weight="bold" text-anchor="middle" fill="#000" stroke="#000" stroke-width="0.1">13 mg/kg</text>
<text x="274.5" y="365.6" font-size="18.5" font-weight="normal" text-anchor="start" fill="#000">J</text>
<polyline points="299,393.25 323.18,399.61 347.36,420.31 371.54,465.26 395.72,493.71 419.9,503.75" fill="none" stroke="#0000ff" stroke-width="1.15" stroke-linejoin="round"/>
<polyline points="299,391.1 323.18,397.7 347.36,411.92 371.54,459.3 395.72,491.3 419.9,502.09" fill="none" stroke="#008000" stroke-width="1.15" stroke-linejoin="round"/>
<polyline points="299,388.43 323.18,393 347.36,403.8 371.54,453.58 395.72,489.52 419.9,501.08" fill="none" stroke="#ff0000" stroke-width="1.15" stroke-linejoin="round"/>
<path d="M323.18 399.61 V393.25 M319.68 393.25 H326.68 M323.18 399.61 V405.96 M319.68 405.96 H326.68" stroke="#0000ff" stroke-width="1.2" fill="none"/>
<path d="M347.36 420.31 V409.38 M343.86 409.38 H350.86 M347.36 420.31 V431.23 M343.86 431.23 H350.86" stroke="#0000ff" stroke-width="1.2" fill="none"/>
<path d="M371.54 465.26 V456.37 M368.04 456.37 H375.04 M371.54 465.26 V474.15 M368.04 474.15 H375.04" stroke="#0000ff" stroke-width="1.2" fill="none"/>
<rect x="295.9" y="390.15" width="6.2" height="6.2" fill="#fff" stroke="#0000ff" stroke-width="1.3"/>
<rect x="320.08" y="396.5" width="6.2" height="6.2" fill="#fff" stroke="#0000ff" stroke-width="1.3"/>
<rect x="344.26" y="417.21" width="6.2" height="6.2" fill="#fff" stroke="#0000ff" stroke-width="1.3"/>
<rect x="368.44" y="462.16" width="6.2" height="6.2" fill="#fff" stroke="#0000ff" stroke-width="1.3"/>
<rect x="392.62" y="490.61" width="6.2" height="6.2" fill="#fff" stroke="#0000ff" stroke-width="1.3"/>
<rect x="416.8" y="500.64" width="6.2" height="6.2" fill="#fff" stroke="#0000ff" stroke-width="1.3"/>
<path d="M347.36 411.92 V399.86 M343.86 399.86 H350.86 M347.36 411.92 V423.99 M343.86 423.99 H350.86" stroke="#008000" stroke-width="1.2" fill="none"/>
<path d="M371.54 459.3 V442.79 M368.04 442.79 H375.04 M371.54 459.3 V474.28 M368.04 474.28 H375.04" stroke="#008000" stroke-width="1.2" fill="none"/>
<path d="M395.72 491.3 V481.14 M392.22 481.14 H399.22 M395.72 491.3 V501.46 M392.22 501.46 H399.22" stroke="#008000" stroke-width="1.2" fill="none"/>
<path d="M419.9 502.09 V495.11 M416.4 495.11 H423.4 M419.9 502.09 V509.08 M416.4 509.08 H423.4" stroke="#008000" stroke-width="1.2" fill="none"/>
<rect x="295.9" y="388" width="6.2" height="6.2" fill="#fff" stroke="#008000" stroke-width="1.3"/>
<rect x="320.08" y="394.6" width="6.2" height="6.2" fill="#fff" stroke="#008000" stroke-width="1.3"/>
<rect x="344.26" y="408.82" width="6.2" height="6.2" fill="#fff" stroke="#008000" stroke-width="1.3"/>
<rect x="368.44" y="456.19" width="6.2" height="6.2" fill="#fff" stroke="#008000" stroke-width="1.3"/>
<rect x="392.62" y="488.2" width="6.2" height="6.2" fill="#fff" stroke="#008000" stroke-width="1.3"/>
<rect x="416.8" y="498.99" width="6.2" height="6.2" fill="#fff" stroke="#008000" stroke-width="1.3"/>
<path d="M347.36 403.8 V399.99 M343.86 399.99 H350.86 M347.36 403.8 V407.61 M343.86 407.61 H350.86" stroke="#ff0000" stroke-width="1.2" fill="none"/>
<path d="M371.54 453.58 V444.94 M368.04 444.94 H375.04 M371.54 453.58 V462.22 M368.04 462.22 H375.04" stroke="#ff0000" stroke-width="1.2" fill="none"/>
<path d="M395.72 489.52 V483.81 M392.22 483.81 H399.22 M395.72 489.52 V495.24 M392.22 495.24 H399.22" stroke="#ff0000" stroke-width="1.2" fill="none"/>
<path d="M419.9 501.08 V497.27 M416.4 497.27 H423.4 M419.9 501.08 V504.89 M416.4 504.89 H423.4" stroke="#ff0000" stroke-width="1.2" fill="none"/>
<rect x="295.9" y="385.33" width="6.2" height="6.2" fill="#fff" stroke="#ff0000" stroke-width="1.3"/>
<rect x="320.08" y="389.9" width="6.2" height="6.2" fill="#fff" stroke="#ff0000" stroke-width="1.3"/>
<rect x="344.26" y="400.7" width="6.2" height="6.2" fill="#fff" stroke="#ff0000" stroke-width="1.3"/>
<rect x="368.44" y="450.48" width="6.2" height="6.2" fill="#fff" stroke="#ff0000" stroke-width="1.3"/>
<rect x="392.62" y="486.42" width="6.2" height="6.2" fill="#fff" stroke="#ff0000" stroke-width="1.3"/>
<rect x="416.8" y="497.98" width="6.2" height="6.2" fill="#fff" stroke="#ff0000" stroke-width="1.3"/>
<rect x="402.5" y="387.9" width="6.2" height="6.2" fill="#fff" stroke="#ff0000" stroke-width="1.3"/>
<text x="415.5" y="393.59" font-size="7" font-weight="normal" text-anchor="start" fill="#000" stroke="#000" stroke-width="0.05">PNH</text>
<rect x="402.5" y="399.7" width="6.2" height="6.2" fill="#fff" stroke="#008000" stroke-width="1.3"/>
<text x="415.5" y="405.39" font-size="7" font-weight="normal" text-anchor="start" fill="#000" stroke="#000" stroke-width="0.05">JNH</text>
<rect x="402.5" y="411" width="6.2" height="6.2" fill="#fff" stroke="#0000ff" stroke-width="1.3"/>
<text x="415.5" y="416.69" font-size="7" font-weight="normal" text-anchor="start" fill="#000" stroke="#000" stroke-width="0.05">SNH</text>
</svg>
</body></html>
